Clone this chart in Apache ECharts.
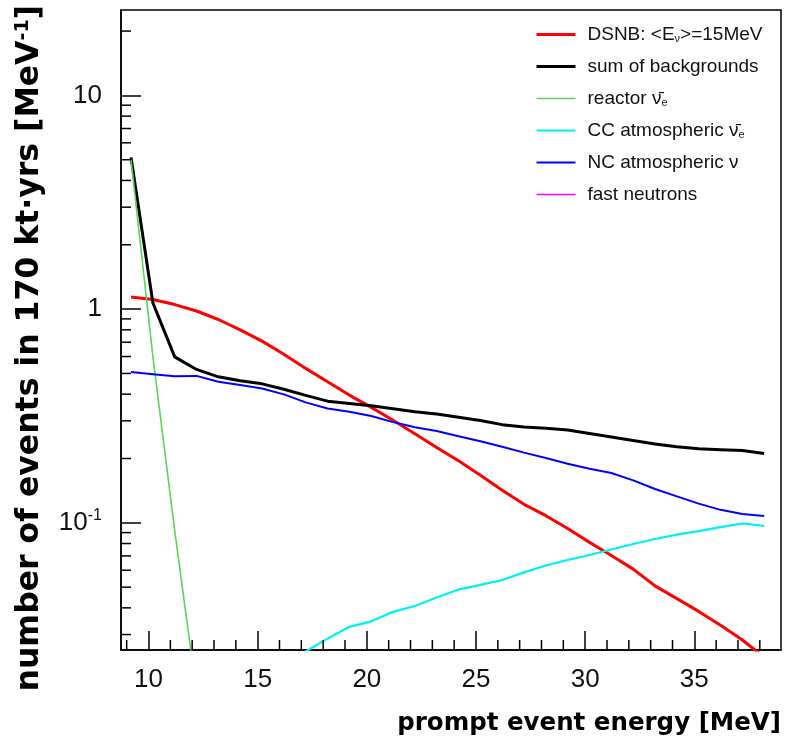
<!DOCTYPE html>
<html>
<head>
<meta charset="utf-8">
<script src="https://cdn.jsdelivr.net/npm/echarts@6/dist/echarts.min.js"></script>
<style>
  html, body { margin: 0; padding: 0; background: #fff; }
  #chart { width: 795px; height: 741px; }
</style>
</head>
<body>
<div id="chart"></div>
<script>
// Bin centres of the prompt event energy spectrum [MeV]
const energy = [9.2, 10.2, 11.2, 12.2, 13.2, 14.2, 15.2, 16.2, 17.2, 18.2,
                19.2, 20.2, 21.2, 22.2, 23.2, 24.2, 25.2, 26.2, 27.2, 28.2,
                29.2, 30.2, 31.2, 32.2, 33.2, 34.2, 35.2, 36.2, 37.2, 38.2];

// Events per MeV in 170 kt·yrs
const dsnb = [1.14, 1.11, 1.05, 0.98, 0.894, 0.80, 0.708, 0.615, 0.528, 0.457,
              0.396, 0.347, 0.302, 0.261, 0.225, 0.195, 0.167, 0.142, 0.122, 0.108,
              0.094, 0.081, 0.0703, 0.0607, 0.0507, 0.0442, 0.0385, 0.0332, 0.0283, 0.0235];
const sumBkg = [5.13, 1.07, 0.598, 0.522, 0.482, 0.462, 0.447, 0.422, 0.395, 0.371,
                0.362, 0.353, 0.342, 0.331, 0.323, 0.312, 0.301, 0.288, 0.281, 0.277,
                0.272, 0.262, 0.252, 0.243, 0.234, 0.227, 0.222, 0.220, 0.218, 0.211];
// reactor spectrum falls below the plotted range after the first bins
const reactor = [5.0, 0.60, 0.092, 0.016, 0.003];
const ccAtm = [null, null, null, null, null, null, null, 0.022, 0.025, 0.0287,
               0.0326, 0.0346, 0.0383, 0.0408, 0.0447, 0.0487, 0.0512, 0.054, 0.0586, 0.0631,
               0.067, 0.0707, 0.075, 0.0796, 0.084, 0.0881, 0.0915, 0.0955, 0.0993, 0.0966];
const ncAtm = [0.508, 0.496, 0.485, 0.487, 0.457, 0.441, 0.425, 0.399, 0.366, 0.343,
               0.331, 0.316, 0.296, 0.280, 0.269, 0.254, 0.241, 0.227, 0.213, 0.201,
               0.189, 0.179, 0.171, 0.158, 0.144, 0.133, 0.123, 0.115, 0.110, 0.1076];
// fast-neutron rate stays below the plotted range everywhere
const fastNeutrons = [];

// Axis ticks
const xMajor = [10, 15, 20, 25, 30, 35];
const xMinor = [9, 11, 12, 13, 14, 16, 17, 18, 19, 21, 22, 23, 24, 26, 27, 28, 29,
                31, 32, 33, 34, 36, 37, 38];
const yMajor = [0.1, 1, 10];
const yMinor = [0.03, 0.04, 0.05, 0.06, 0.07, 0.08, 0.09,
                0.2, 0.3, 0.4, 0.5, 0.6, 0.7, 0.8, 0.9,
                2, 3, 4, 5, 6, 7, 8, 9, 20];

const X_MIN = 8.74, X_MAX = 38.97;
const Y_MIN = 0.0254, Y_MAX = 25.1;

const FONT = '"Liberation Sans", Arial, Helvetica, sans-serif';
const TITLE_FONT = '"DejaVu Sans", "Liberation Sans", sans-serif';
const lg = Math.log10;

function toPoints(values) {
  return values.map((v, i) => [energy[i], v == null ? null : lg(v)]);
}

const curves = [
  { name: 'dsnb',    values: dsnb,         color: '#ff0000', width: 3 },
  { name: 'sum',     values: sumBkg,       color: '#000000', width: 3 },
  { name: 'reactor', values: reactor,      color: '#59d454', width: 1.6 },
  { name: 'cc',      values: ccAtm,        color: '#00f0f0', width: 2.2 },
  { name: 'nc',      values: ncAtm,        color: '#0000ff', width: 2 },
  { name: 'fast',    values: fastNeutrons, color: '#ff00ff', width: 1.6 }
];

const chart = echarts.init(document.getElementById('chart'), null, { renderer: 'canvas' });

const subStyle = { fontSize: 11, lineHeight: 11, verticalAlign: 'bottom', fontFamily: FONT, color: '#111' };
const legendNames = {
  dsnb: 'DSNB: <E{sub|ν}>=15MeV',
  sum: 'sum of backgrounds',
  reactor: 'reactor ν\u0304{sub|e}',
  cc: 'CC atmospheric ν\u0304{sub|e}',
  nc: 'NC atmospheric ν',
  fast: 'fast neutrons'
};

const option = {
  animation: false,
  backgroundColor: '#fff',
  grid: {
    left: 121, right: 14, top: 10, bottom: 91,
    show: true, borderColor: '#000', borderWidth: 1.5, backgroundColor: 'transparent'
  },
  xAxis: {
    type: 'value', min: X_MIN, max: X_MAX,
    axisLine: { show: true, onZero: false, lineStyle: { color: '#000', width: 1.5 } },
    axisTick: { show: true, inside: true, length: 19, customValues: xMajor,
                lineStyle: { color: '#000', width: 1.5 } },
    axisLabel: { show: true, customValues: xMajor, margin: 17, color: '#111',
                 fontSize: 26, fontFamily: FONT },
    splitLine: { show: false }
  },
  yAxis: {
    type: 'value', min: lg(Y_MIN), max: lg(Y_MAX),
    axisLine: { show: true, onZero: false, lineStyle: { color: '#000', width: 1.5 } },
    axisTick: { show: true, inside: true, length: 20, customValues: yMajor.map(lg),
                lineStyle: { color: '#000', width: 1.5 } },
    axisLabel: {
      show: true, customValues: yMajor.map(lg), margin: 19, color: '#111',
      fontSize: 26, fontFamily: FONT,
      formatter: v => {
        const e = Math.round(v);
        if (e === 0) return '1';
        if (e === 1) return '10';
        return '{b|10}{s|' + e + '}';
      },
      rich: {
        b: { fontSize: 26, lineHeight: 30, fontFamily: FONT, color: '#111' },
        s: { fontSize: 16, lineHeight: 16, verticalAlign: 'top', fontFamily: FONT, color: '#111' }
      }
    },
    splitLine: { show: false }
  },
  legend: {
    orient: 'vertical', left: 530, top: 20,
    itemWidth: 39, itemHeight: 16, itemGap: 13,
    selectedMode: false,
    itemStyle: { opacity: 0 },
    data: curves.map(c => ({ name: c.name, lineStyle: { width: c.width, color: c.color } })),
    formatter: n => legendNames[n],
    textStyle: {
      fontSize: 19, fontFamily: FONT, color: '#111', padding: [0, 0, 0, 7],
      rich: { sub: subStyle }
    }
  },
  graphic: [
    {
      type: 'text', x: 781, y: 724,
      style: {
        text: 'prompt event energy [MeV]',
        fontSize: 24.5, fontWeight: 'bold', fontFamily: TITLE_FONT,
        fill: '#000', align: 'right', verticalAlign: 'middle'
      }
    },
    {
      type: 'text', x: 46, y: 5, rotation: Math.PI / 2,
      style: {
        text: 'number of events in 170 kt·yrs [MeV{s|-1}]',
        fontSize: 31.5, fontWeight: 'bold', fontFamily: TITLE_FONT,
        fill: '#000', align: 'right', verticalAlign: 'bottom',
        rich: {
          s: { fontSize: 19, fontWeight: 'bold', fontFamily: TITLE_FONT, verticalAlign: 'top', lineHeight: 19 }
        }
      }
    }
  ],
  series: [
    ...curves.map(c => ({
      name: c.name, type: 'line', data: toPoints(c.values),
      symbol: 'none', clip: true, silent: true,
      lineStyle: { color: c.color, width: c.width, join: 'round' },
      itemStyle: { color: c.color },
      connectNulls: false,
      z: 3
    })),
    {
      // minor ticks along the energy axis
      type: 'custom', silent: true, clip: false, z: 4,
      data: xMinor.map(v => [v, lg(Y_MIN)]),
      renderItem: (params, api) => {
        const p = api.coord([api.value(0), api.value(1)]);
        return { type: 'line', shape: { x1: p[0], y1: p[1], x2: p[0], y2: p[1] - 10 },
                 style: { stroke: '#000', lineWidth: 1.5 } };
      }
    },
    {
      // minor ticks along the event-rate axis
      type: 'custom', silent: true, clip: false, z: 4,
      data: yMinor.map(v => [X_MIN, lg(v)]),
      renderItem: (params, api) => {
        const p = api.coord([api.value(0), api.value(1)]);
        return { type: 'line', shape: { x1: p[0], y1: p[1], x2: p[0] + 10, y2: p[1] },
                 style: { stroke: '#000', lineWidth: 1.5 } };
      }
    }
  ]
};

chart.setOption(option);
</script>
</body>
</html>
